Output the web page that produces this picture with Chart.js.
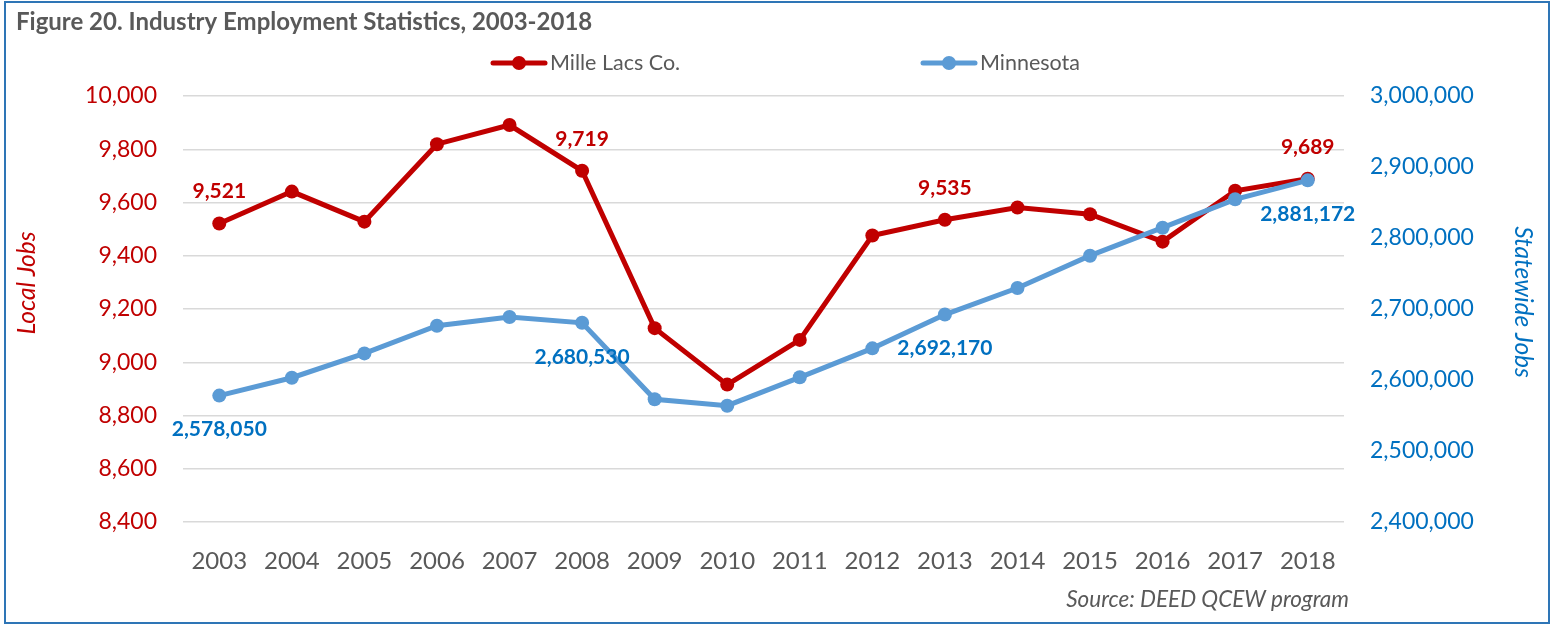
<!DOCTYPE html>
<html lang="en">
<head>
    <meta charset="UTF-8">
    <title>Industry Employment Statistics, 2003-2018</title>
    <script src="https://cdn.jsdelivr.net/npm/chart.js"></script>
    <style>
        body {
            margin: 0;
            background: #ffffff;
        }
        #wrap {
            position: relative;
            width: 1561px;
            height: 625px;
        }
        #frame {
            position: absolute;
            left: 4px;
            top: 1px;
            width: 1542px;
            height: 619px;
            border: 2px solid #2e75b6;
            pointer-events: none;
        }
    </style>
</head>
<body>
    <div id="wrap">
        <canvas id="jobsChart" width="1561" height="625"></canvas>
        <div id="frame"></div>
    </div>

    <script>
        // data
        const years = ['2003', '2004', '2005', '2006', '2007', '2008', '2009', '2010',
                       '2011', '2012', '2013', '2014', '2015', '2016', '2017', '2018'];
        const milleLacs = [9521, 9641, 9528, 9819, 9891, 9719, 9128, 8916,
                           9084, 9476, 9535, 9581, 9556, 9453, 9644, 9689];
        const minnesota = [2578050, 2603200, 2637500, 2676500, 2688700, 2680530, 2572800, 2563800,
                           2603800, 2644600, 2692170, 2729600, 2775100, 2814500, 2854500, 2881172];
        const labelledYears = ['2003', '2008', '2013', '2018'];
        const localTicks = [8400, 10000, 200];
        const stateTicks = [2400000, 3000000, 100000];

        const RED = '#c00000';
        const BLUE = '#5b9bd5';
        const BLUE_TEXT = '#0070c0';
        const GREY = '#595959';
        const FONT = 'Lato, "Open Sans", sans-serif';

        const fmt = v => Number(v).toLocaleString('en-US');

        // value labels above / below the chosen points
        const valueLabels = {
            id: 'valueLabels',
            afterDatasetsDraw(chart) {
                const ctx = chart.ctx;
                ctx.save();
                ctx.font = 'bold 21px ' + FONT;
                ctx.textAlign = 'center';
                ctx.textBaseline = 'middle';
                chart.data.datasets.forEach((ds, di) => {
                    const meta = chart.getDatasetMeta(di);
                    years.forEach((yr, i) => {
                        if (!labelledYears.includes(yr)) return;
                        const pt = meta.data[i];
                        if (di === 0) {
                            ctx.fillStyle = RED;
                            ctx.fillText(fmt(ds.data[i]), pt.x, pt.y - 32);
                        } else {
                            ctx.fillStyle = BLUE_TEXT;
                            ctx.fillText(fmt(ds.data[i]), pt.x, pt.y + 34);
                        }
                    });
                });
                ctx.restore();
            }
        };

        // title, legend, axis titles and source note
        const decorations = {
            id: 'decorations',
            afterDraw(chart) {
                const ctx = chart.ctx;
                const area = chart.chartArea;
                ctx.save();

                ctx.fillStyle = GREY;
                ctx.font = 'bold 24px ' + FONT;
                ctx.textAlign = 'left';
                ctx.textBaseline = 'middle';
                ctx.fillText('Figure 20. Industry Employment Statistics, 2003-2018', 16, 22);

                const legend = [
                    {text: chart.data.datasets[0].label, color: RED, x: 491},
                    {text: chart.data.datasets[1].label, color: BLUE, x: 921}
                ];
                legend.forEach(item => {
                    ctx.strokeStyle = item.color;
                    ctx.lineWidth = 5;
                    ctx.lineCap = 'round';
                    ctx.beginPath();
                    ctx.moveTo(item.x + 2, 63);
                    ctx.lineTo(item.x + 54, 63);
                    ctx.stroke();
                    ctx.fillStyle = item.color;
                    ctx.beginPath();
                    ctx.arc(item.x + 28, 63, 7, 0, Math.PI * 2);
                    ctx.fill();
                    ctx.fillStyle = GREY;
                    ctx.font = '21.5px ' + FONT;
                    ctx.fillText(item.text, item.x + 59, 63);
                });

                ctx.font = 'italic 24.5px ' + FONT;
                ctx.textAlign = 'center';
                ctx.save();
                ctx.translate(27, 283);
                ctx.rotate(-Math.PI / 2);
                ctx.fillStyle = RED;
                ctx.fillText('Local Jobs', 0, 0);
                ctx.restore();

                ctx.save();
                ctx.translate(1523, 302);
                ctx.rotate(Math.PI / 2);
                ctx.fillStyle = BLUE_TEXT;
                ctx.fillText('Statewide Jobs', 0, 0);
                ctx.restore();

                ctx.font = 'italic 22.5px ' + FONT;
                ctx.textAlign = 'right';
                ctx.fillStyle = GREY;
                ctx.fillText('Source: DEED QCEW program', area.right + 5, 600);

                ctx.restore();
            }
        };

        new Chart(document.getElementById('jobsChart'), {
            type: 'line',
            data: {
                labels: years,
                datasets: [{
                    label: 'Mille Lacs Co.',
                    data: milleLacs,
                    yAxisID: 'yLocal',
                    borderColor: RED,
                    backgroundColor: RED,
                    borderWidth: 5,
                    pointRadius: 7,
                    pointBorderWidth: 0,
                    pointBackgroundColor: RED,
                    order: 1
                }, {
                    label: 'Minnesota',
                    data: minnesota,
                    yAxisID: 'yState',
                    borderColor: BLUE,
                    backgroundColor: BLUE,
                    borderWidth: 5,
                    pointRadius: 7,
                    pointBorderWidth: 0,
                    pointBackgroundColor: BLUE,
                    order: 0
                }]
            },
            options: {
                responsive: false,
                animation: false,
                layout: {
                    padding: {top: 96, bottom: 0, left: 0, right: 0}
                },
                plugins: {
                    legend: {display: false},
                    tooltip: {enabled: false}
                },
                scales: {
                    x: {
                        offset: true,
                        grid: {display: false, drawTicks: false, offset: true},
                        border: {display: false},
                        ticks: {
                            color: GREY,
                            font: {family: FONT, size: 24},
                            padding: 25,
                            maxRotation: 0
                        },
                        afterFit: s => { s.height = 103; }
                    },
                    yLocal: {
                        position: 'left',
                        min: localTicks[0],
                        max: localTicks[1],
                        grid: {color: '#d9d9d9', lineWidth: 1.5, drawTicks: false},
                        border: {display: false},
                        ticks: {
                            stepSize: localTicks[2],
                            color: RED,
                            font: {family: FONT, size: 23},
                            padding: 26,
                            callback: v => fmt(v)
                        },
                        afterFit: s => { s.width = 183; }
                    },
                    yState: {
                        position: 'right',
                        min: stateTicks[0],
                        max: stateTicks[1],
                        grid: {display: false, drawTicks: false},
                        border: {display: false},
                        ticks: {
                            stepSize: stateTicks[2],
                            color: BLUE_TEXT,
                            font: {family: FONT, size: 23},
                            padding: 26,
                            callback: v => fmt(v)
                        },
                        afterFit: s => { s.width = 217; }
                    }
                }
            },
            plugins: [valueLabels, decorations]
        });
    </script>
</body>
</html>
